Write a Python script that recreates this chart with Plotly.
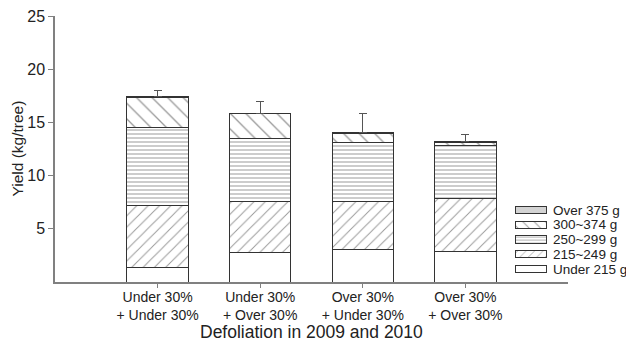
import plotly.graph_objects as go

categories = ["Under 30%<br>+ Under 30%", "Under 30%<br>+ Over 30%",
              "Over 30%<br>+ Under 30%", "Over 30%<br>+ Over 30%"]
under_215 = [1.35, 2.8, 3.05, 2.85]
g215_249 = [5.8, 4.8, 4.5, 5.0]
g250_299 = [7.35, 5.9, 5.55, 4.95]
g300_374 = [2.8, 2.3, 0.9, 0.35]
over_375 = [0.15, 0.05, 0.02, 0.05]
err_total = [0.55, 1.15, 1.85, 0.65]
series_names = ["Under 215 g", "215~249 g", "250~299 g", "300~374 g", "Over 375 g"]

xpos = [0, 1, 2, 3]
line_col = "#333333"
shapes_ = ["", "/", "-", "\\", "."]
sizes = {"": 8, "/": 8, "-": 4, "\\": 11, ".": 3}
sol = {"": 0.2, "/": 0.12, "-": 0.25, "\\": 0.12, ".": 0.5}
series_vals = [under_215, g215_249, g250_299, g300_374, over_375]

fig = go.Figure()
for i, (name, vals, shape) in enumerate(zip(series_names, series_vals, shapes_)):
    kw = {}
    if i == len(series_names) - 1:
        kw["error_y"] = dict(type="data", array=err_total, arrayminus=[0]*4,
                             symmetric=False, color="#555555", thickness=1.2, width=4)
    fig.add_trace(go.Bar(
        x=xpos, y=vals, name=name, width=0.6, showlegend=False,
        marker=dict(color="white",
                    line=dict(color=line_col, width=1),
                    pattern=dict(shape=shape, fgcolor=line_col, bgcolor="white",
                                 size=sizes[shape], solidity=sol[shape])),
        **kw))

# legend drawn as small patterned swatches on an auxiliary axis
legend_rows = list(range(len(series_names)))
leg_sizes = {"": 8, "/": 6, "-": 3, "\\": 8, ".": 2}
fig.add_trace(go.Bar(
    x=[1]*len(series_names), y=legend_rows, orientation="h", width=0.5,
    xaxis="x2", yaxis="y2", showlegend=False, hoverinfo="skip",
    marker=dict(color="white", line=dict(color=line_col, width=1),
                pattern=dict(shape=shapes_, fgcolor=line_col, bgcolor="white",
                             size=[leg_sizes[s] for s in shapes_],
                             solidity=[sol[s] for s in shapes_])),
))

fig.update_layout(
    barmode="stack",
    width=626, height=335,
    margin=dict(l=47, r=66, t=8, b=61, autoexpand=False),
    paper_bgcolor="white", plot_bgcolor="white",
    font=dict(family="Liberation Sans, Arial", size=14, color="#222222"),
    showlegend=False,
    xaxis=dict(
        range=[-1, 4], tickvals=xpos, ticktext=categories,
        showline=True, linecolor="#808080", linewidth=1.5,
        ticks="outside", ticklen=4, tickcolor="#808080",
        showgrid=False, zeroline=False, automargin=False, ticklabelstandoff=-3,
        ticklabeloverflow="allow",
    ),
    yaxis=dict(
        range=[0, 25], tickvals=[5, 10, 15, 20, 25],
        showline=True, linecolor="#808080", linewidth=1.5,
        ticks="outside", ticklen=5, tickcolor="#808080",
        showgrid=False, zeroline=False, automargin=False, tickfont=dict(size=16),
        ticklabeloverflow="allow",
    ),
    xaxis2=dict(domain=[0.8967, 0.959], range=[0, 1], anchor="y2",
                visible=False, fixedrange=True, automargin=False),
    yaxis2=dict(domain=[0.021, 0.2985], range=[-0.5, 4.5], anchor="x2",
                side="right", tickvals=legend_rows, ticktext=series_names,
                showline=False, showgrid=False, zeroline=False, ticks="",
                tickfont=dict(size=13.5), ticklabelstandoff=5, automargin=False,
                ticklabeloverflow="allow"),
    annotations=[
        dict(text="Defoliation in 2009 and 2010", xref="paper", yref="paper",
             x=0.5, y=-0.188, xanchor="center", yanchor="middle",
             showarrow=False, font=dict(size=17.5)),
        dict(text="Yield (kg/tree)", xref="paper", yref="paper",
             x=-0.075, y=0.5, xanchor="center", yanchor="middle", textangle=-90,
             showarrow=False, font=dict(size=15.5)),
    ],
)

fig.write_html("out.html")
